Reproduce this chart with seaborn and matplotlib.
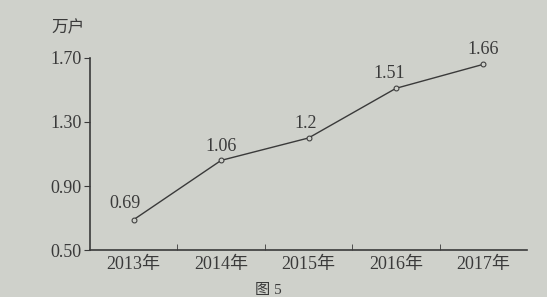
import matplotlib
matplotlib.use("Agg")
import matplotlib.pyplot as plt
import seaborn as sns
import pandas as pd
from matplotlib.ticker import FixedLocator

years = ["2013年", "2014年", "2015年", "2016年", "2017年"]
values = [0.69, 1.06, 1.2, 1.51, 1.66]
value_labels = ["0.69", "1.06", "1.2", "1.51", "1.66"]
yticks = [0.50, 0.90, 1.30, 1.70]
ytick_labels = ["0.50", "0.90", "1.30", "1.70"]

sns.set_style("ticks")
fam = ["Liberation Serif", "Noto Sans CJK SC", "DejaVu Sans"]
plt.rcParams["font.family"] = fam

bg = "#cfd1cb"
ink = "#3a3a3a"

df = pd.DataFrame({"year": years, "value": values, "x": range(len(years))})

fig = plt.figure(figsize=(5.47, 2.97), dpi=100, facecolor=bg)
ax = fig.add_axes([0.1645, 0.158, 0.799, 0.647])
ax.set_facecolor(bg)

sns.lineplot(data=df, x="x", y="value", ax=ax, color=ink, linewidth=1.0,
             marker="o", markersize=3.5, markeredgecolor=ink, markerfacecolor=bg)

ax.set_xlim(-0.5, 4.5)
ax.set_ylim(0.5, 1.70)
ax.set_yticks(yticks)
ax.set_yticklabels(ytick_labels)
ax.set_xticks(range(len(years)))
ax.set_xticklabels(years)
ax.xaxis.set_minor_locator(FixedLocator([0.5, 1.5, 2.5, 3.5]))
ax.tick_params(axis="x", which="major", length=0, pad=4, labelsize=13, colors=ink)
ax.tick_params(axis="x", which="minor", length=4, direction="in", color=ink)
ax.tick_params(axis="y", length=4, direction="out", labelsize=13, colors=ink, pad=2)
ax.set_xlabel("")
ax.set_ylabel("")
for s in ["top", "right"]:
    ax.spines[s].set_visible(False)
for s in ["left", "bottom"]:
    ax.spines[s].set_color(ink)
    ax.spines[s].set_linewidth(1.2)

offsets = [(-0.1, 0.10), (0.0, 0.085), (-0.03, 0.09), (-0.08, 0.09), (0.0, 0.09)]
for i, (v, lab) in enumerate(zip(values, value_labels)):
    dx, dy = offsets[i]
    ax.text(i + dx, v + dy, lab, ha="center", va="center", fontsize=13, color=ink)

fig.text(0.125, 0.905, "万户", fontsize=12, color=ink, style="italic", ha="center", va="center")
fig.text(0.49, 0.0, "图 5", fontsize=11, color=ink, ha="center", va="bottom")

fig.savefig("out.png", dpi=100, facecolor=bg)
